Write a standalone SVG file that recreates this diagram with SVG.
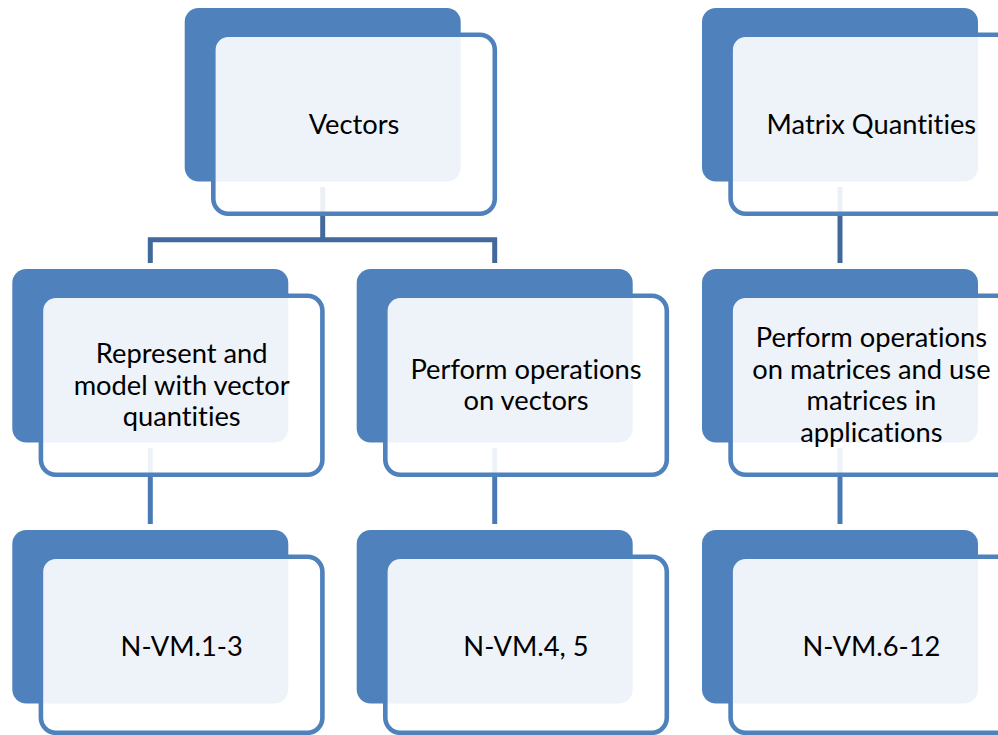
<svg xmlns="http://www.w3.org/2000/svg" width="998" height="735" viewBox="0 0 998 735">
  <style>
    .back { fill: #4F81BD; }
    .front { fill: #FFFFFF; fill-opacity: 0.9; stroke: #4F81BD; stroke-width: 4.6; }
    .link1 { fill: none; stroke: #41699C; stroke-width: 5; }
    .link2 { fill: none; stroke: #4A7AB6; stroke-width: 5; }
    .label { font-family: Lato, "Open Sans", "Liberation Sans", sans-serif; font-size: 27.3px; fill: #000000; text-anchor: middle; font-variant-ligatures: none; font-feature-settings: "liga" 0; }
  </style>
  <rect width="998" height="735" fill="#FFFFFF"/>

  <!-- connectors -->
  <g id="connectors">
    <path class="link1" d="M322.7,187 V239.7 M150.3,263 V239.7 H494.7 V263"/>
    <path class="link1" d="M840,187 V263"/>
    <path class="link2" d="M150.3,448 V524"/>
    <path class="link2" d="M494.7,448 V524"/>
    <path class="link2" d="M840,448 V524"/>
  </g>

  <!-- level 1 -->
  <g id="vectors">
    <rect class="back" x="184.7" y="8" width="276" height="173.5" rx="14"/>
    <rect class="front" x="213.3" y="34.8" width="281.5" height="179" rx="15"/>
    <text class="label" x="354" y="133.5">Vectors</text>
  </g>
  <g id="matrix-quantities">
    <rect class="back" x="702" y="8" width="276" height="173.5" rx="14"/>
    <rect class="front" x="730.6" y="34.8" width="281.5" height="179" rx="15"/>
    <text class="label" x="871.4" y="133.5">Matrix Quantities</text>
  </g>

  <!-- level 2 -->
  <g id="represent-model">
    <rect class="back" x="12.3" y="269" width="276" height="173.5" rx="14"/>
    <rect class="front" x="40.9" y="295.8" width="281.5" height="179" rx="15"/>
    <text class="label" x="181.7" y="363">Represent and</text>
    <text class="label" x="181.7" y="394.5">model with vector</text>
    <text class="label" x="181.7" y="426">quantities</text>
  </g>
  <g id="vector-operations">
    <rect class="back" x="356.7" y="269" width="276" height="173.5" rx="14"/>
    <rect class="front" x="385.3" y="295.8" width="281.5" height="179" rx="15"/>
    <text class="label" x="526" y="378.9">Perform operations</text>
    <text class="label" x="526" y="410.4">on vectors</text>
  </g>
  <g id="matrix-operations">
    <rect class="back" x="702" y="269" width="276" height="173.5" rx="14"/>
    <rect class="front" x="730.6" y="295.8" width="281.5" height="179" rx="15"/>
    <text class="label" x="871.4" y="347.4">Perform operations</text>
    <text class="label" x="871.4" y="378.9">on matrices and use</text>
    <text class="label" x="871.4" y="410.4">matrices in</text>
    <text class="label" x="871.4" y="441.9">applications</text>
  </g>

  <!-- level 3 -->
  <g id="nvm-1-3">
    <rect class="back" x="12.3" y="530" width="276" height="173.5" rx="14"/>
    <rect class="front" x="40.9" y="556.8" width="281.5" height="176" rx="15"/>
    <text class="label" x="181.7" y="655.5">N-VM.1-3</text>
  </g>
  <g id="nvm-4-5">
    <rect class="back" x="356.7" y="530" width="276" height="173.5" rx="14"/>
    <rect class="front" x="385.3" y="556.8" width="281.5" height="176" rx="15"/>
    <text class="label" x="526" y="655.5">N-VM.4, 5</text>
  </g>
  <g id="nvm-6-12">
    <rect class="back" x="702" y="530" width="276" height="173.5" rx="14"/>
    <rect class="front" x="730.6" y="556.8" width="281.5" height="176" rx="15"/>
    <text class="label" x="871.4" y="655.5">N-VM.6-12</text>
  </g>
</svg>
